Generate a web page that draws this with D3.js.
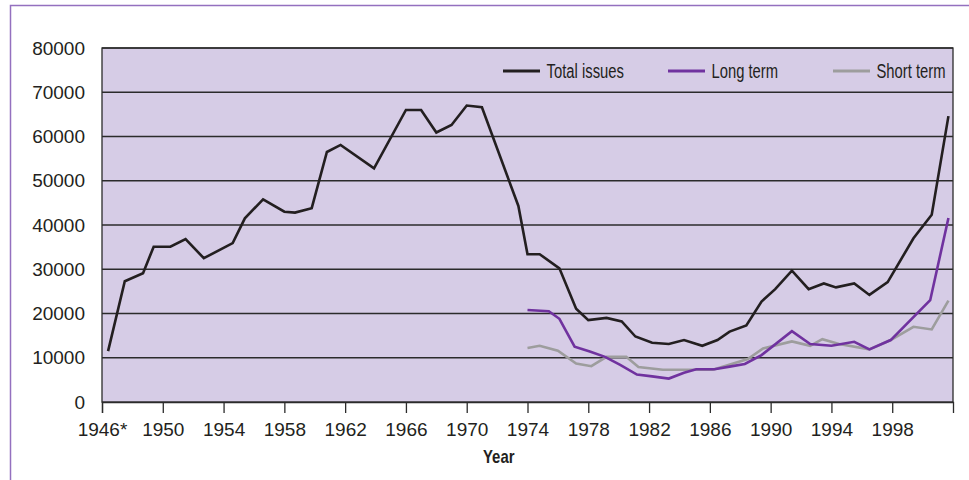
<!DOCTYPE html>
<html>
<head>
<meta charset="utf-8">
<script src="https://cdn.jsdelivr.net/npm/d3@7"></script>
<style>
  body { margin: 0; background: #ffffff; }
</style>
</head>
<body>
<script>
// Chart data (year positions as plotted)
var totalYears = [1946.4, 1947.5, 1948.7, 1949.4, 1950.5, 1951.5, 1952.7, 1954.6, 1955.4, 1956.6,
  1958.0, 1958.7, 1959.8, 1960.8, 1961.7, 1963.9, 1966.0, 1967.0, 1968.0, 1969.0,
  1970.0, 1971.0, 1973.4, 1974.0, 1974.8, 1976.1, 1977.2, 1978.0, 1979.2, 1980.2,
  1981.1, 1982.2, 1983.3, 1984.3, 1985.5, 1986.5, 1987.3, 1988.4, 1989.4, 1990.3,
  1991.4, 1992.5, 1993.5, 1994.3, 1995.5, 1996.5, 1997.7, 1999.4, 2000.6, 2001.7];
var totalIssues = [11500, 27300, 29100, 35100, 35100, 36800, 32500, 35900, 41500, 45800,
  43000, 42800, 43800, 56500, 58100, 52800, 66000, 66000, 60900, 62600,
  67000, 66600, 44300, 33400, 33400, 30200, 21100, 18500, 19000, 18200,
  14800, 13400, 13100, 14000, 12700, 14000, 15900, 17300, 22700, 25500,
  29700, 25500, 26800, 25900, 26800, 24200, 27100, 37000, 42300, 64600];

var longYears = [1974.0, 1975.4, 1976.1, 1977.1, 1978.1, 1979.1, 1980.1, 1981.2, 1982.2, 1983.3,
  1984.3, 1985.1, 1986.3, 1987.3, 1988.3, 1989.4, 1991.4, 1992.6, 1994.0, 1995.5,
  1996.5, 1997.9, 2000.5, 2001.7];
var longTerm = [20800, 20500, 18800, 12500, 11400, 10200, 8400, 6200, 5800, 5300,
  6600, 7400, 7400, 8000, 8600, 10600, 16000, 13100, 12700, 13600,
  11900, 14000, 23000, 41600];

var shortYears = [1974.0, 1974.8, 1976.0, 1977.2, 1978.2, 1979.2, 1980.5, 1981.3, 1982.9, 1986.2,
  1988.5, 1989.5, 1991.4, 1992.6, 1993.4, 1994.5, 1996.5, 1997.9, 1999.4, 2000.6, 2001.7];
var shortTerm = [12200, 12700, 11600, 8700, 8100, 10200, 10200, 7900, 7300, 7300,
  9700, 12100, 13700, 12700, 14200, 13100, 11900, 14000, 17000, 16400, 22900];

var yTicks = [0, 10000, 20000, 30000, 40000, 50000, 60000, 70000, 80000];
var xTicks = [1946, 1950, 1954, 1958, 1962, 1966, 1970, 1974, 1978, 1982, 1986, 1990, 1994, 1998];

var seriesNames = ["Total issues", "Long term", "Short term"];
var seriesColors = ["#231f20", "#70329f", "#9d9d9d"];

var fontFamily = "'Liberation Sans', Arial, sans-serif";

// SVG area
var svgWidth = 969;
var svgHeight = 480;

var chartMargin = { top: 48, right: 16, bottom: 78, left: 102 };
var chartWidth = svgWidth - chartMargin.left - chartMargin.right;
var chartHeight = svgHeight - chartMargin.top - chartMargin.bottom;

var svg = d3.select("body")
  .append("svg")
  .attr("width", svgWidth)
  .attr("height", svgHeight);

// purple frame (top and left edges)
svg.append("path")
  .attr("d", "M10.5,480 V5.5 H969")
  .attr("fill", "none")
  .attr("stroke", "#9470bf")
  .attr("stroke-width", 1.5);

var chartGroup = svg.append("g")
  .attr("transform", `translate(${chartMargin.left}, ${chartMargin.top})`);

// Scales
var xScale = d3.scaleLinear()
  .domain([1946, 2002])
  .range([0, chartWidth]);

var yScale = d3.scaleLinear()
  .domain([0, 80000])
  .range([chartHeight, 0]);

// plot background
chartGroup.append("rect")
  .attr("width", chartWidth)
  .attr("height", chartHeight)
  .attr("fill", "#d6cce6");

// gridlines
chartGroup.append("g")
  .selectAll("line")
  .data(yTicks.slice(1))
  .enter()
  .append("line")
  .attr("x1", 0)
  .attr("x2", chartWidth)
  .attr("y1", d => yScale(d))
  .attr("y2", d => yScale(d))
  .attr("stroke", "#2b2b2b")
  .attr("stroke-width", 1.3);

// plot border
chartGroup.append("rect")
  .attr("width", chartWidth)
  .attr("height", chartHeight)
  .attr("fill", "none")
  .attr("stroke", "#2b2b2b")
  .attr("stroke-width", 1.3);

// Axes
var leftAxis = d3.axisLeft(yScale)
  .tickValues(yTicks)
  .tickSize(0)
  .tickPadding(17)
  .tickFormat(d3.format("d"));

var bottomAxis = d3.axisBottom(xScale)
  .tickValues(xTicks)
  .tickSize(11)
  .tickPadding(10)
  .tickFormat(d => d === 1946 ? "1946*" : String(d));

chartGroup.append("g")
  .call(leftAxis)
  .attr("font-family", fontFamily)
  .attr("font-size", 19)
  .call(g => g.select(".domain").remove())
  .call(g => g.selectAll(".tick text").attr("fill", "#231f20"));

var xAxisGroup = chartGroup.append("g")
  .attr("transform", `translate(0, ${chartHeight})`)
  .call(bottomAxis)
  .attr("font-family", fontFamily)
  .attr("font-size", 19);
xAxisGroup.select(".domain").attr("stroke", "#2b2b2b").attr("stroke-width", 1.3);
xAxisGroup.selectAll(".tick line").attr("stroke", "#2b2b2b").attr("stroke-width", 1.3);
xAxisGroup.selectAll(".tick text").attr("fill", "#231f20");

// axis title (condensed via textLength)
svg.append("text")
  .attr("x", 483)
  .attr("y", 463)
  .attr("font-family", fontFamily)
  .attr("font-size", 18.5)
  .attr("font-weight", "bold")
  .attr("textLength", 31.5)
  .attr("lengthAdjust", "spacingAndGlyphs")
  .attr("fill", "#231f20")
  .text("Year");

// Lines
var line = d3.line()
  .x(d => xScale(d[0]))
  .y(d => yScale(d[1]));

var seriesData = [
  d3.zip(totalYears, totalIssues),
  d3.zip(longYears, longTerm),
  d3.zip(shortYears, shortTerm)
];

// draw grey first, then purple, then black on top
[2, 1, 0].forEach(function(i) {
  chartGroup.append("path")
    .datum(seriesData[i])
    .attr("d", line)
    .attr("fill", "none")
    .attr("stroke", seriesColors[i])
    .attr("stroke-width", 2.6)
    .attr("stroke-linejoin", "miter");
});

// Legend
var legendX = [401, 566, 731];
var legendTextWidth = [77.5, 66.5, 69];
var legend = chartGroup.append("g");

seriesNames.forEach(function(name, i) {
  legend.append("line")
    .attr("x1", legendX[i])
    .attr("x2", legendX[i] + 37)
    .attr("y1", 23)
    .attr("y2", 23)
    .attr("stroke", seriesColors[i])
    .attr("stroke-width", 3);
  legend.append("text")
    .attr("x", legendX[i] + 43.5)
    .attr("y", 29.7)
    .attr("font-family", fontFamily)
    .attr("font-size", 20)
    .attr("textLength", legendTextWidth[i])
    .attr("lengthAdjust", "spacingAndGlyphs")
    .attr("fill", "#231f20")
    .text(name);
});
</script>
</body>
</html>
